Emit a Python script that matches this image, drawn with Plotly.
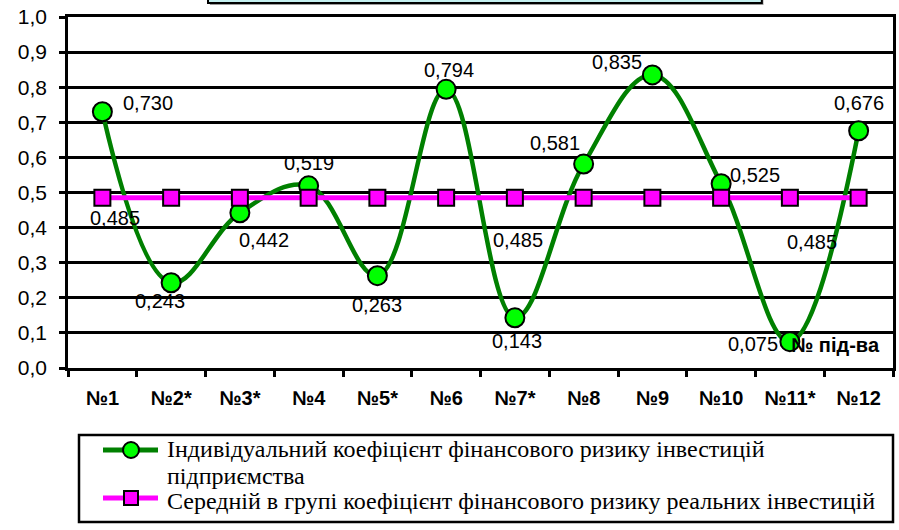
import plotly.graph_objects as go

categories = ["№1", "№2*", "№3*", "№4", "№5*", "№6", "№7*", "№8", "№9", "№10", "№11*", "№12"]
individual = [0.730, 0.243, 0.442, 0.519, 0.263, 0.794, 0.143, 0.581, 0.835, 0.525, 0.075, 0.676]
group_avg = [0.485] * 12

legend_ind_1 = "Індивідуальний коефіцієнт фінансового ризику інвестицій"
legend_ind_2 = "підприємства"
legend_avg = "Середній в групі коефіцієнт фінансового ризику реальних інвестицій"

# label offsets in pixels (xshift, yshift)
ind_shift = [(46, 9), (-11, -18), (24, -27), (0, 23), (0, -29), (3, 19),
             (2, -23), (-29, 21), (-35, 13), (34, 9), (-37, -2), (0, 28)]
avg_label_idx = [0, 6, 10]
avg_shift = {0: (13, -20), 6: (3, -42), 10: (22, -44)}

GREEN_LINE = "#008000"
GREEN_FILL = "#00ff00"
PINK = "#ff00ff"

fig = go.Figure()
fig.add_trace(go.Scatter(
    x=categories, y=individual, name=legend_ind_1 + " " + legend_ind_2, mode="lines+markers",
    line=dict(color=GREEN_LINE, width=4.5, shape="spline", smoothing=1.1),
    marker=dict(symbol="circle", size=19, color=GREEN_FILL, line=dict(color="black", width=2)),
))
fig.add_trace(go.Scatter(
    x=categories, y=group_avg, name=legend_avg, mode="lines+markers",
    line=dict(color=PINK, width=5),
    marker=dict(symbol="square", size=16, color=PINK, line=dict(color="black", width=2)),
))

lab_font = dict(family="Liberation Sans, Arial", size=20, color="black")
annotations = []
for i, (c, v) in enumerate(zip(categories, individual)):
    xs, ys = ind_shift[i]
    annotations.append(dict(x=c, y=v, text=f"{v:.3f}".replace(".", ","), showarrow=False,
                            xshift=xs, yshift=ys, font=lab_font))
for i in avg_label_idx:
    xs, ys = avg_shift[i]
    annotations.append(dict(x=categories[i], y=group_avg[i], text=f"{group_avg[i]:.3f}".replace(".", ","),
                            showarrow=False, xshift=xs, yshift=ys, font=lab_font))
annotations.append(dict(x=0.9867, y=0.0655, xref="paper", yref="paper", xanchor="right", yanchor="middle",
                        text="<b>№ під-ва</b>", showarrow=False,
                        font=dict(family="Liberation Sans, Arial", size=20, color="black")))

# manual legend (pixel layout converted to paper coords; plot area 68..893 x 17..368)
def px_x(p):
    return (p - 68) / 825.0

def px_y(p):
    return (368 - p) / 351.0

leg_font = dict(family="Liberation Serif, Times New Roman", size=24, color="black")
for txt, ypix in [(legend_ind_1, 449), (legend_ind_2, 476), (legend_avg, 501)]:
    annotations.append(dict(x=px_x(165), y=px_y(ypix), xref="paper", yref="paper", xanchor="left",
                            yanchor="middle", text=txt, showarrow=False, font=leg_font))

shapes = [
    # top title box (clipped at top)
    dict(type="rect", xref="paper", yref="paper", x0=0.172, x1=0.843, y0=1.034, y1=1.25,
         fillcolor="#9a9a9a", line=dict(width=0), layer="below"),
    dict(type="rect", xref="paper", yref="paper", x0=0.1697, x1=0.841, y0=1.04, y1=1.25,
         fillcolor="#c4f0f0", line=dict(color="black", width=2), layer="below"),
    # legend box
    dict(type="rect", xref="paper", yref="paper", x0=px_x(79), x1=1.0, y0=px_y(522), y1=px_y(435),
         fillcolor="rgba(0,0,0,0)", line=dict(color="black", width=2.5)),
    # legend samples
    dict(type="line", xref="paper", yref="paper", x0=px_x(103), x1=px_x(158), y0=px_y(450), y1=px_y(450),
         line=dict(color=GREEN_LINE, width=5)),
    dict(type="circle", xref="paper", yref="paper", xsizemode="pixel", ysizemode="pixel",
         xanchor=px_x(131), yanchor=px_y(450), x0=-8, x1=8, y0=-8, y1=8,
         fillcolor=GREEN_FILL, line=dict(color="black", width=2)),
    dict(type="line", xref="paper", yref="paper", x0=px_x(103), x1=px_x(158), y0=px_y(498), y1=px_y(498),
         line=dict(color=PINK, width=5)),
    dict(type="rect", xref="paper", yref="paper", xsizemode="pixel", ysizemode="pixel",
         xanchor=px_x(131), yanchor=px_y(498), x0=-7, x1=7, y0=-7, y1=7,
         fillcolor=PINK, line=dict(color="black", width=2)),
]

fig.update_layout(
    template="none",
    width=899, height=530,
    margin=dict(l=68, r=6, t=17, b=162),
    paper_bgcolor="white", plot_bgcolor="white",
    separators=", ",
    annotations=annotations, shapes=shapes,
    showlegend=False,
    xaxis=dict(type="category", showline=True, linecolor="black", linewidth=2.5,
               ticks="outside", ticklen=6, tickwidth=2.5, tickcolor="black", tickson="boundaries",
               showgrid=False, mirror=True, ticklabelstandoff=10, automargin=False,
               tickfont=dict(family="Liberation Sans, Arial", size=20, color="black", weight="bold"),
               range=[-0.5, 11.5]),
    yaxis=dict(range=[0, 1.0], dtick=0.1, tickformat=".1f", showline=True, linecolor="black",
               linewidth=2.5, mirror=True, ticks="outside", ticklen=6, tickwidth=2.5, tickcolor="black",
               showgrid=True, gridcolor="#000000", gridwidth=2.5, zeroline=False, automargin=False,
               ticklabelstandoff=8,
               tickfont=dict(family="Liberation Sans, Arial", size=21, color="black")),
)

fig.write_html("out.html", config={"displayModeBar": False},
               post_script="document.body.style.margin='0';document.body.style.overflow='hidden';")
